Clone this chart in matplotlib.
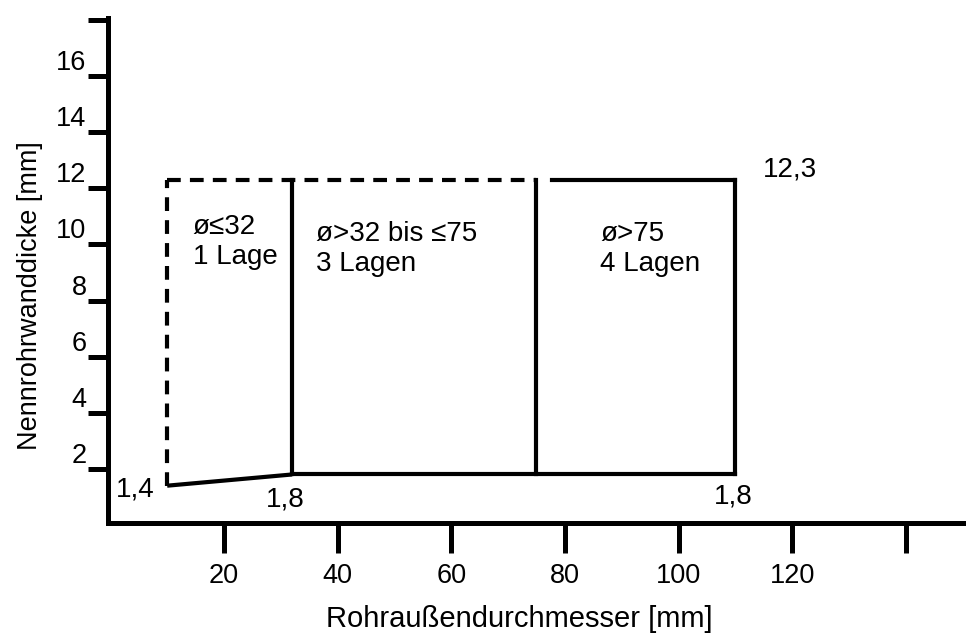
import numpy as np
import matplotlib
matplotlib.use('Agg')
import matplotlib.pyplot as plt

plt.rcParams['font.family'] = ['Liberation Sans', 'DejaVu Sans']

# Eckpunkte des Bereichs (Rohraussendurchmesser, Wanddicke)
d_min = 10
d_grenzen = [32, 75, 110]
s_min = 1.4
s_32 = 1.8
s_max = 12.3

xticks = [20, 40, 60, 80, 100, 120, 140]
xlabels = ['20', '40', '60', '80', '100', '120', '']
yticks = [2, 4, 6, 8, 10, 12, 14, 16, 18]
ylabels = ['2', '4', '6', '8', '10', '12', '14', '16', '']

bereiche = ['ø≤32\n1 Lage', 'ø>32 bis ≤75\n3 Lagen', 'ø>75\n4 Lagen']
bereich_x = [14.5, 36.2, 86.2]
bereich_y = [11.1, 10.85, 10.85]

fig = plt.figure(figsize=(9.66, 6.33), dpi=100)
ax = fig.add_axes([108/966, 110/633, 1 - 108/966, (633-18-110)/633])
ax.set_xlim(-0.42, 150.6)
ax.set_ylim(0.07, 18.07)

lw = 3
dash = (0, (3.3, 2.2))
# gestrichelt: kleiner Bereich
ax.plot([d_min, d_min], [s_min, s_max], color='black', lw=lw, linestyle=dash)
ax.plot([d_min, d_grenzen[1]], [s_max, s_max], color='black', lw=lw, linestyle=dash)
# durchgezogen
ax.plot([d_min, d_grenzen[0]], [s_min, s_32], color='black', lw=lw, solid_capstyle='butt')
ax.plot([d_grenzen[0], d_grenzen[2]], [s_32, s_32], color='black', lw=lw)
ax.plot([d_grenzen[1] + 2.7, d_grenzen[2]], [s_max, s_max], color='black', lw=lw)
for d in d_grenzen:
    ax.plot([d, d], [s_32, s_max], color='black', lw=lw)

fs = 20
ax.text(7.8, 1.25, '1,4', ha='right', va='center', fontsize=fs)
ax.text(30.7, 0.9, '1,8', ha='center', va='center', fontsize=fs)
ax.text(109.6, 1.0, '1,8', ha='center', va='center', fontsize=fs)
ax.text(114.9, 12.66, '12,3', ha='left', va='center', fontsize=fs)
for txt, x, y in zip(bereiche, bereich_x, bereich_y):
    ax.text(x, y, txt, ha='left', va='top', fontsize=fs, linespacing=1.2)

for s in ['top', 'right']:
    ax.spines[s].set_visible(False)
for s in ['left', 'bottom']:
    ax.spines[s].set_linewidth(3.6)

ax.set_xticks(xticks)
ax.set_xticklabels(xlabels)
ax.set_yticks(yticks)
ax.set_yticklabels(ylabels)
ax.tick_params(axis='x', direction='out', length=21.6, width=3.6, pad=7, labelsize=19.5)
ax.tick_params(axis='y', direction='out', length=14.4, width=3.6, pad=1, labelsize=19.5)
for t in ax.get_yticklabels():
    t.set_va('bottom')

ax.set_xlabel('Rohraußendurchmesser [mm]', fontsize=21)
ax.set_ylabel('Nennrohrwanddicke [mm]', fontsize=19.5)
ax.xaxis.set_label_coords(0.479, -0.162)
ax.yaxis.set_label_coords(-0.076, 0.45)

fig.savefig('out.png', dpi=100)
